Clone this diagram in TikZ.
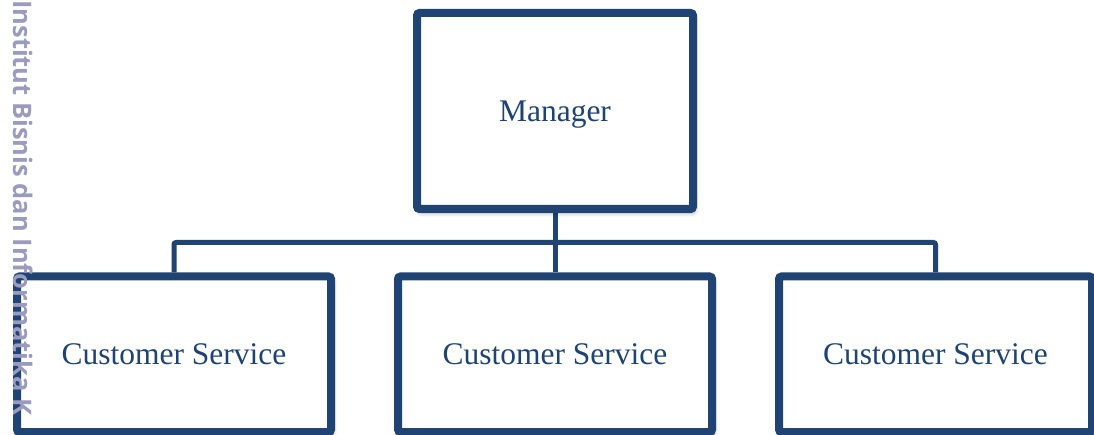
\documentclass[tikz,border=0pt]{standalone}
\usepackage{fontspec}
\setmainfont{Liberation Serif}
\newfontfamily\wmfont{Open Sans}
\usetikzlibrary{backgrounds,shadows.blur}
\definecolor{navy}{RGB}{31,68,115}
\definecolor{wmgray}{RGB}{155,155,192}
\tikzset{
  orgbox/.style={draw=navy, line width=8pt, fill=white, rounded corners=2.5pt,
    text=navy, font=\fontsize{31.5}{38}\selectfont, text height=21pt, text depth=0pt,
    blur shadow={shadow xshift=2pt, shadow yshift=-4pt, shadow blur radius=4pt, shadow opacity=35}},
  conn/.style={draw=navy, line width=5pt, rounded corners=2pt},
  watermark/.style={text=wmgray, font=\wmfont\bfseries\fontsize{25.5}{30}\selectfont, rotate=-90, anchor=base west, inner sep=0pt}
}
\begin{document}
\begin{tikzpicture}[x=1pt,y=-1pt]
\useasboundingbox (0,0) rectangle (1094,435);
\node[orgbox, minimum width=276pt, minimum height=196pt] (mgr) at (555,111) {Manager};
\node[orgbox, minimum width=314pt, minimum height=155.5pt] (cs1) at (174,354.25) {Customer Service};
\node[orgbox, minimum width=314pt, minimum height=155.5pt] (cs2) at (555,354.25) {Customer Service};
\node[orgbox, minimum width=313pt, minimum height=155.5pt] (cs3) at (935.5,354.25) {Customer Service};
\coordinate (bus) at (555,242.5);
\begin{pgfonlayer}{background}
\draw[conn] (mgr.south) -- (bus);
\draw[conn] (cs1.north) |- (bus) -| (cs3.north);
\draw[conn] (bus) -- (cs2.north);
\end{pgfonlayer}
\node[watermark] (wm) at (13,0) {Institut Bisnis dan Informatika K};
\end{tikzpicture}
\end{document}
